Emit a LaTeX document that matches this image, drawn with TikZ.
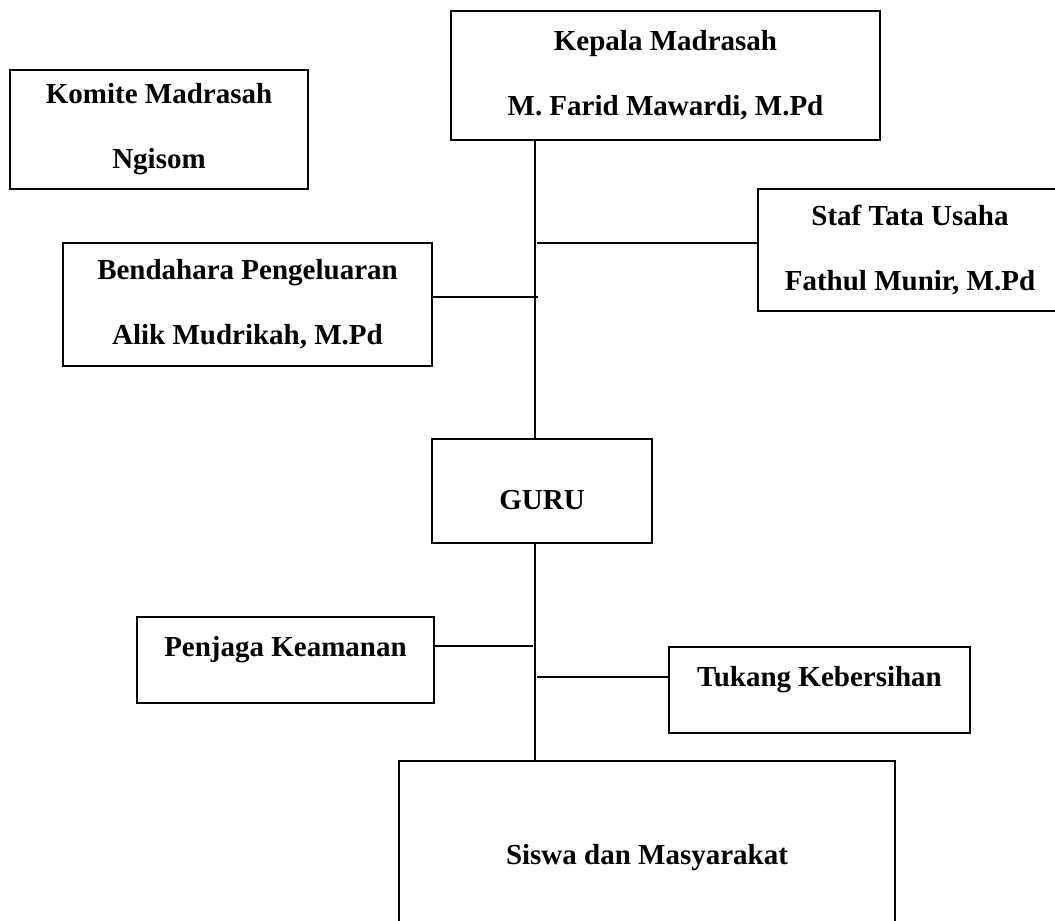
\documentclass[tikz,border=0pt]{standalone}
\usepackage{fontspec}
\setmainfont{Liberation Serif}

\begin{document}
\begin{tikzpicture}[x=1pt,y=-1pt,line width=1.8pt,
    box/.style={draw,rectangle,inner sep=0pt,align=center,font=\fontsize{29}{65}\selectfont\bfseries},
    textup/.style={text height=20pt,text depth=28pt},
    textdown/.style={text height=40pt,text depth=3pt}]
                    \clip (0,0) rectangle (1055,921);
                    \node[box,minimum width=429pt,minimum height=129pt] (kepala) at (665.5,75.5) {Kepala Madrasah\\M. Farid Mawardi, M.Pd};
                    \node[box,minimum width=298pt,minimum height=119pt] (komite) at (159,129.5) {Komite Madrasah\\Ngisom};
                    \node[box,minimum width=304pt,minimum height=122pt] (staf) at (910,250) {Staf Tata Usaha\\Fathul Munir, M.Pd};
                    \node[box,minimum width=369pt,minimum height=123pt] (bendahara) at (247.5,304.5) {Bendahara Pengeluaran\\Alik Mudrikah, M.Pd};
                    \node[box,textdown,minimum width=220pt,minimum height=104pt] (guru) at (542,491) {GURU};
                    \node[box,textup,minimum width=297pt,minimum height=86pt] (penjaga) at (285.5,660) {Penjaga Keamanan};
                    \node[box,textup,minimum width=301pt,minimum height=86pt] (tukang) at (819.5,690) {Tukang Kebersihan};
                    \node[box,minimum width=496pt,minimum height=194pt] (siswa) at (647,858) {Siswa dan Masyarakat};
                    \coordinate (spine) at (535,0);
                    \coordinate (jstaf) at (537,243);
                    \coordinate (jbend) at (538,297);
                    \coordinate (jpenj) at (533,646);
                    \coordinate (jtuk) at (537,677);
                    \path
                    (kepala.south -| spine) edge (guru.north -| spine)
                    (guru.south -| spine) edge (siswa.north -| spine)
                    (jstaf) edge (jstaf -| staf.west)
                    (jbend) edge (jbend -| bendahara.east)
                    (jpenj) edge (jpenj -| penjaga.east)
                    (jtuk) edge (jtuk -| tukang.west)
                    ;
                \end{tikzpicture}
\end{document}
